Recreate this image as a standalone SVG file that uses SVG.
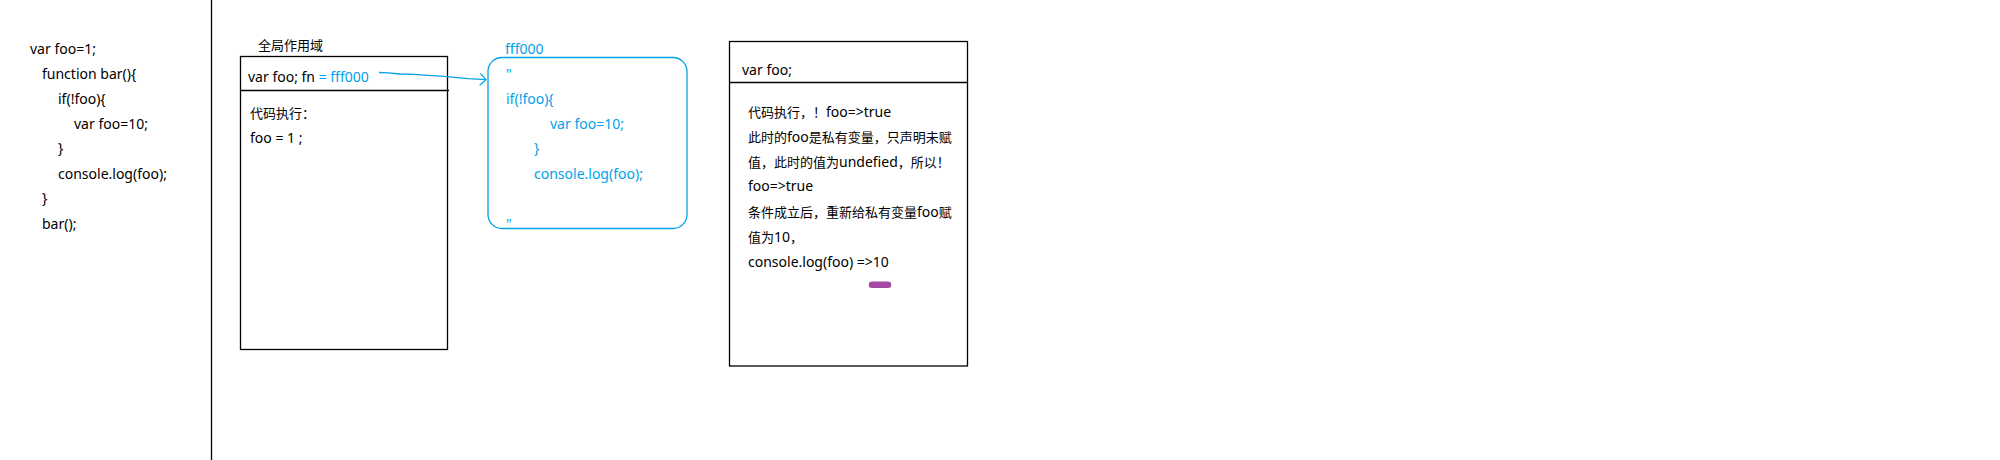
<svg xmlns="http://www.w3.org/2000/svg" width="2000" height="460" viewBox="0 0 2000 460">
<style>
text{font-family:"Noto Sans","Noto Sans CJK SC",sans-serif;font-size:14px;fill:#000}
.c{font-family:"Noto Sans CJK SC",sans-serif;font-size:13px}
.b{fill:#00a2e8}
.box{fill:none;stroke:#000;stroke-width:1.3}
</style>
<defs>
<marker id="arr" markerWidth="10" markerHeight="14" refX="7" refY="7" orient="auto" markerUnits="userSpaceOnUse">
<path d="M1,1 L7,7 L1,13" fill="none" stroke="#00a2e8" stroke-width="1.2"/>
</marker>
</defs>
<rect width="2000" height="460" fill="#fff"/>
<g id="code">
<text x="30" y="54">var foo=1;</text>
<text x="42" y="79">function bar(){</text>
<text x="58" y="104">if(!foo){</text>
<text x="74" y="129">var foo=10;</text>
<text x="58" y="153">}</text>
<text x="58" y="179">console.log(foo);</text>
<text x="42" y="203">}</text>
<text x="42" y="229">bar();</text>
</g>
<line x1="211.5" y1="0" x2="211.5" y2="460" stroke="#000" stroke-width="1.3"/>
<g id="global">
<text class="c" x="258" y="50">全局作用域</text>
<rect class="box" x="240.5" y="56.5" width="207" height="293"/>
<line x1="240.5" y1="90.5" x2="449" y2="90.5" stroke="#000" stroke-width="1.3"/>
<text x="248" y="82">var foo; fn <tspan class="b">= fff000</tspan></text>
<text class="c" x="250" y="118">代码执行：</text>
<text x="250" y="143">foo = 1 ;</text>
</g>
<g id="fn">
<text class="b" x="505" y="54">fff000</text>
<rect x="488" y="57.5" width="199" height="171" rx="14" ry="14" fill="none" stroke="#00a2e8" stroke-width="1.3"/>
<text class="b" x="506" y="79">"</text>
<text class="b" x="506" y="104">if(!foo){</text>
<text class="b" x="550" y="129">var foo=10;</text>
<text class="b" x="534" y="153">}</text>
<text class="b" x="534" y="179">console.log(foo);</text>
<text class="b" x="506" y="229">"</text>
</g>
<g id="private">
<rect class="box" x="729.5" y="41.5" width="238" height="324.5"/>
<line x1="729.5" y1="82.5" x2="967.5" y2="82.5" stroke="#000" stroke-width="1.3"/>
<text x="742" y="75">var foo;</text>
<text x="748" y="117"><tspan class="c">代码执行，！</tspan>foo=&gt;true</text>
<text x="748" y="142"><tspan class="c">此时的</tspan>foo<tspan class="c">是私有变量，只声明未赋</tspan></text>
<text x="748" y="167"><tspan class="c">值，此时的值为</tspan>undefied<tspan class="c">，所以！</tspan></text>
<text x="748" y="191">foo=&gt;true</text>
<text x="748" y="217"><tspan class="c">条件成立后，重新给私有变量</tspan>foo<tspan class="c">赋</tspan></text>
<text x="748" y="242"><tspan class="c">值为</tspan>10<tspan class="c">，</tspan></text>
<text x="748" y="267">console.log(foo) =&gt;10</text>
<line x1="872" y1="284.7" x2="888" y2="284.7" stroke="#a349a4" stroke-width="6.5" stroke-linecap="round"/>
</g>
<g id="connectors">
<polyline points="379,72.5 388,72.8 400,74 414,74.4 428,75.3 441,76.2 455,77.3 468,78.6 486,79.7" fill="none" stroke="#00a2e8" stroke-width="1.3" marker-end="url(#arr)"/>
</g>
</svg>
